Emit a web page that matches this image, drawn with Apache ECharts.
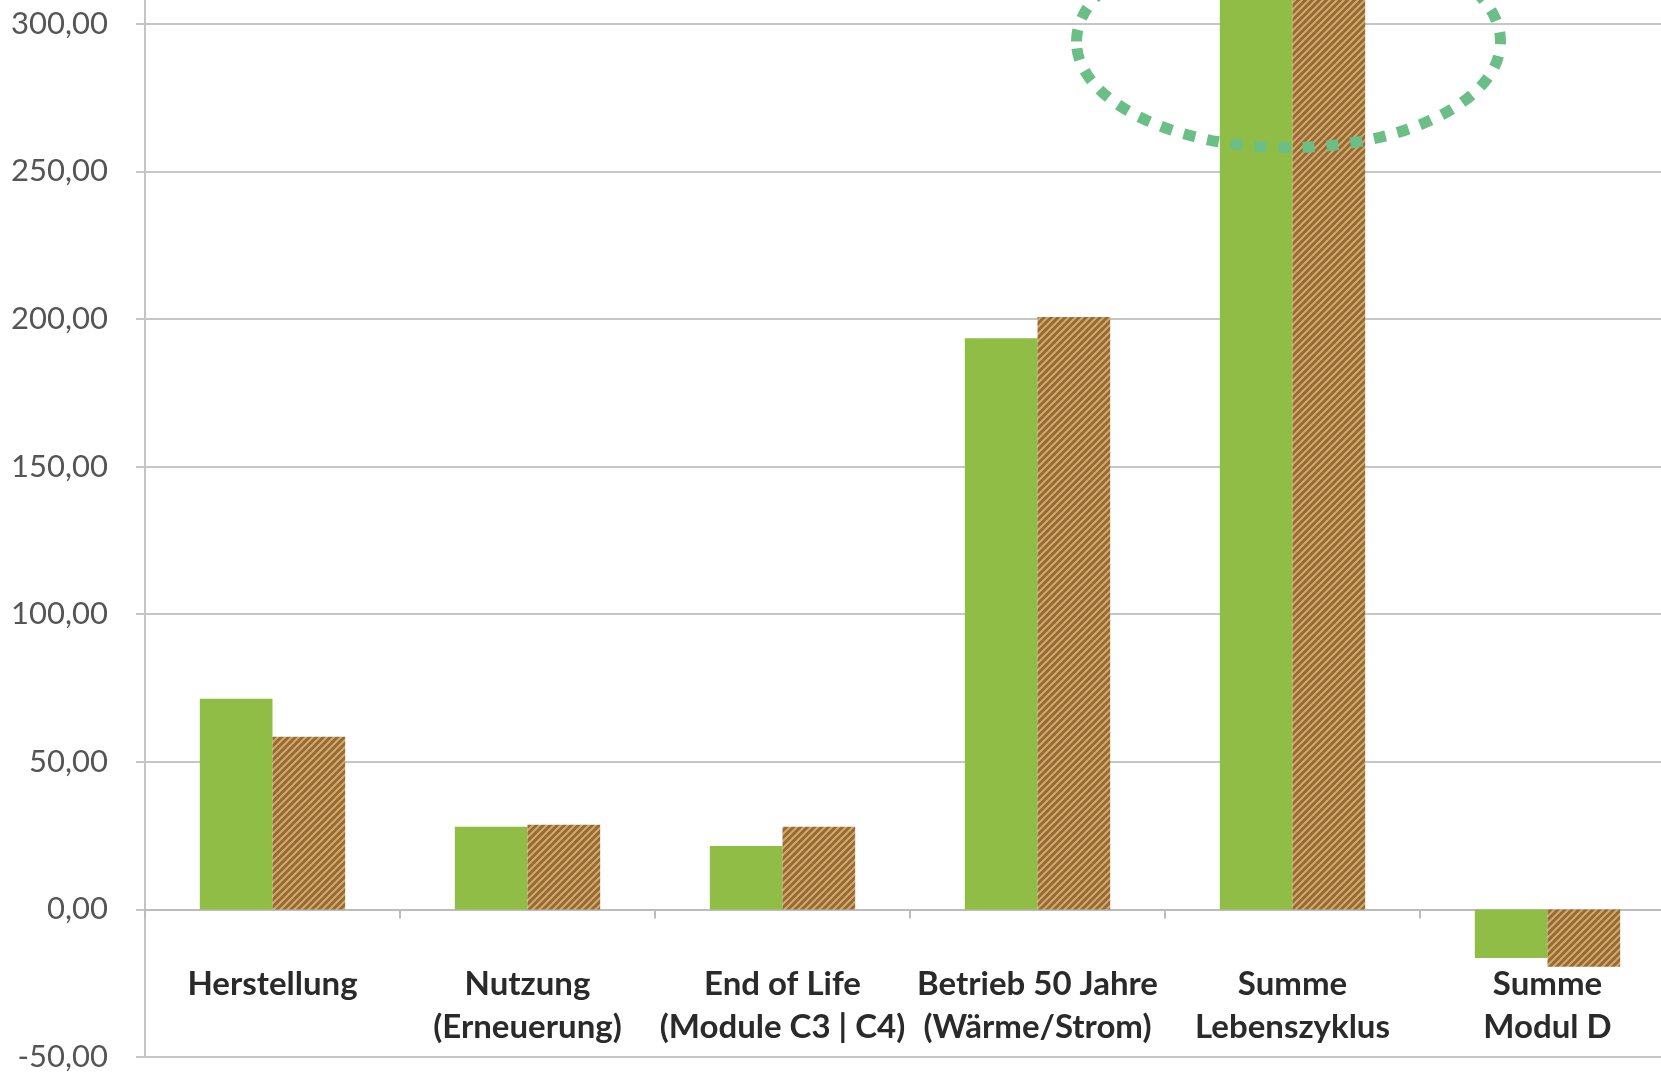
<!DOCTYPE html>
<html>
<head>
<meta charset="utf-8">
<script src="https://cdn.jsdelivr.net/npm/echarts@6/dist/echarts.min.js"></script>
<style>html,body{margin:0;padding:0;background:#fff}#c{width:1661px;height:1073px}</style>
</head>
<body>
<div id="c"></div>
<script>
const categories = ['Herstellung', 'Nutzung\n(Erneuerung)', 'End of Life\n(Module C3 | C4)', 'Betrieb 50 Jahre\n(Wärme/Strom)', 'Summe\nLebenszyklus', 'Summe\nModul D'];
const seriesGreen = [71.4, 28.0, 21.5, 193.5, 314.4, -16.5];
const seriesBrown = [58.5, 28.7, 28.0, 200.7, 315.9, -19.4];
const yTicks = { min: -50, max: 308.1, interval: 50 };
const highlight = { category: 'Summe\nLebenszyklus', value: 294 };

function hatch() {
  const s = 7;
  const c = document.createElement('canvas');
  c.width = s; c.height = s;
  const g = c.getContext('2d');
  g.fillStyle = '#9b6a2b';
  g.fillRect(0, 0, s, s);
  g.strokeStyle = '#caa97b';
  g.lineWidth = 2;
  g.beginPath();
  g.moveTo(-1, s + 1); g.lineTo(s + 1, -1);
  g.moveTo(-1, 1); g.lineTo(1, -1);
  g.moveTo(s - 1, s + 1); g.lineTo(s + 1, s - 1);
  g.stroke();
  return c;
}

const chart = echarts.init(document.getElementById('c'), null, { renderer: 'canvas' });
const grey = '#c6c6c6';
chart.setOption({
  animation: false,
  backgroundColor: '#ffffff',
  grid: { left: 145, right: -14, top: 0, bottom: 16, containLabel: false, outerBoundsMode: 'none' },
  xAxis: [{
    type: 'category',
    data: categories,
    axisLine: { show: true, onZero: true, lineStyle: { color: '#bcbcbc', width: 2 } },
    axisTick: { show: true, length: 9, lineStyle: { color: '#bcbcbc', width: 2 } },
    axisLabel: { show: false }
  }, {
    type: 'category',
    data: categories,
    position: 'bottom',
    axisLine: { show: false, onZero: false },
    axisTick: { show: false },
    splitLine: { show: false },
    axisLabel: {
      interval: 0, margin: -94, color: '#2a2a2a',
      fontFamily: 'Lato', fontWeight: 'bold', fontSize: 33, lineHeight: 43
    }
  }],
  yAxis: {
    type: 'value',
    min: yTicks.min, max: yTicks.max, interval: yTicks.interval,
    axisLine: { show: true, lineStyle: { color: '#c4c4c4', width: 2 } },
    axisTick: { show: true, length: 9, lineStyle: { color: grey, width: 2 } },
    splitLine: { show: true, showMaxLine: false, lineStyle: { color: grey, width: 2 } },
    axisLabel: {
      margin: 37, color: '#555555', fontFamily: 'Lato', fontSize: 31, showMaxLabel: false,
      formatter: v => v.toFixed(2).replace('.', ',')
    }
  },
  series: [
    {
      type: 'bar', data: seriesGreen, barGap: '0%', barCategoryGap: '43%',
      itemStyle: { color: '#8fbd45' }
    },
    {
      type: 'bar', data: seriesBrown, barGap: '0%', barCategoryGap: '43%',
      itemStyle: { color: { image: hatch(), repeat: 'repeat' } }
    }
  ]
});

const p = chart.convertToPixel({ xAxisIndex: 0, yAxisIndex: 0 }, [highlight.category, highlight.value]);
chart.setOption({
  graphic: [{
    type: 'ellipse',
    shape: { cx: p[0] - 4, cy: p[1], rx: 212, ry: 106 },
    style: { fill: 'none', stroke: '#6bbf86', lineWidth: 11, lineDash: [12, 12] },
    z: 100
  }]
});
</script>
</body>
</html>
